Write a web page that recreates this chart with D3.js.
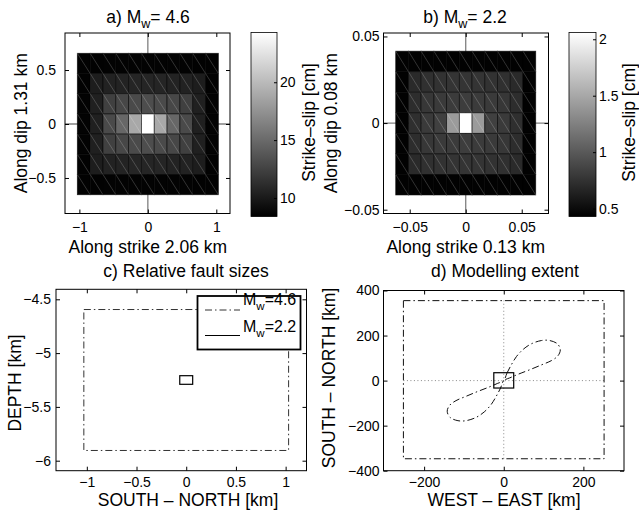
<!DOCTYPE html>
<html>
<head>
<meta charset="utf-8">
<script src="https://cdn.jsdelivr.net/npm/d3@7"></script>
<style>
  body { margin: 0; background: #fff; }
  svg text { font-family: "Liberation Sans", Arial, Helvetica, sans-serif; fill: #000; }
</style>
</head>
<body>
<svg id="fig" width="639" height="514"></svg>
<script>
// slip on the 11 x 7 sub-faults (top row first), a) Mw 4.6 [cm]
var slipA = [
  [8.5, 8.5, 8.6, 8.6, 8.6, 8.6, 8.6, 8.6, 8.6, 8.5, 8.5],
  [8.5, 10.2, 10.5, 10.6, 10.7, 10.7, 10.7, 10.6, 10.5, 10.2, 8.5],
  [8.6, 10.4, 12.4, 12.8, 13.0, 13.2, 13.0, 12.8, 12.4, 10.4, 8.6],
  [8.6, 10.4, 13.0, 14.8, 18.9, 24.3, 18.9, 14.8, 13.0, 10.4, 8.6],
  [8.6, 10.4, 12.4, 12.8, 13.0, 13.2, 13.0, 12.8, 12.4, 10.4, 8.6],
  [8.5, 10.2, 10.5, 10.6, 10.7, 10.7, 10.7, 10.6, 10.5, 10.2, 8.5],
  [8.5, 8.5, 8.6, 8.6, 8.6, 8.6, 8.6, 8.6, 8.6, 8.5, 8.5]
];
// b) Mw 2.2 [cm]
var slipB = [
  [0.44, 0.44, 0.44, 0.44, 0.44, 0.44, 0.44, 0.44, 0.44, 0.44, 0.44],
  [0.44, 0.70, 0.74, 0.75, 0.76, 0.76, 0.76, 0.75, 0.74, 0.70, 0.44],
  [0.44, 0.72, 0.78, 0.80, 0.81, 0.82, 0.81, 0.80, 0.78, 0.72, 0.44],
  [0.44, 0.73, 0.80, 0.84, 1.42, 2.06, 1.42, 0.84, 0.80, 0.73, 0.44],
  [0.44, 0.72, 0.78, 0.80, 0.81, 0.82, 0.81, 0.80, 0.78, 0.72, 0.44],
  [0.44, 0.70, 0.74, 0.75, 0.76, 0.76, 0.76, 0.75, 0.74, 0.70, 0.44],
  [0.44, 0.44, 0.44, 0.44, 0.44, 0.44, 0.44, 0.44, 0.44, 0.44, 0.44]
];
var faultSizeA = [2.06, 1.31];     // along strike, along dip [km]
var faultSizeB = [0.125, 0.083];
var slipRangeA = [8.4, 24.3], cbarTicksA = [10, 15, 20];
var slipRangeB = [0.43, 2.06], cbarTicksB = [0.5, 1, 1.5, 2];
var ticksAx = [-1, 0, 1], ticksAy = [-0.5, 0, 0.5];
var ticksBx = [-0.05, 0, 0.05], ticksBy = [-0.05, 0, 0.05];

// c) fault outlines [xmin, xmax, ymin, ymax] in km
var outlineC46 = [-1.03, 1.03, -5.905, -4.595];
var outlineC22 = [-0.065, 0.065, -5.29, -5.21];
var ticksCx = [-1, -0.5, 0, 0.5, 1], ticksCy = [-6, -5.5, -5, -4.5];

// d) modelling extent [km]
var modelBoxD = [-252, 252, -347, 355];
var faultBoxD = [-25, 25, -33, 35];
var lobeX = [0, 8, 19, 32, 49, 69, 95, 115, 135, 142, 136, 120, 95, 65, 36, 15,
             0, -8, -19, -32, -49, -69, -95, -115, -135, -142, -136, -120, -95, -65, -36, -15];
var lobeY = [0, 33, 70, 107, 139, 163, 178, 178, 163, 136, 110, 89, 70, 48, 28, 12,
             0, -33, -70, -107, -139, -163, -178, -178, -163, -136, -110, -89, -70, -48, -28, -12];
var ticksDx = [-200, 0, 200], ticksDy = [-400, -200, 0, 200, 400];

var FONT = '"Liberation Sans", Arial, Helvetica, sans-serif';
var LABEL = 17.5, TICK = 14;
var DASHDOT = "7,3,1.5,3";
var svg = d3.select("#fig");
svg.append("rect").attr("width", 639).attr("height", 514).attr("fill", "#fff");

function fmt(d) { return String(d).replace("-", "\u2212"); }

function drawAxes(g, x, y, xt, yt, padX, padY) {
  var xr = x.range(), yr = y.range();
  var ax = [
    [d3.axisBottom(x).tickValues(xt).tickPadding(padX).tickFormat(fmt), 0, yr[0]],
    [d3.axisTop(x).tickValues(xt).tickFormat(""), 0, yr[1]],
    [d3.axisLeft(y).tickValues(yt).tickPadding(padY).tickFormat(fmt), xr[0], 0],
    [d3.axisRight(y).tickValues(yt).tickFormat(""), xr[1], 0]
  ];
  ax.forEach(function(a) {
    g.append("g").attr("transform", "translate(" + a[1] + "," + a[2] + ")")
      .call(a[0].tickSize(-4))
      .attr("font-size", TICK).attr("font-family", FONT)
      .call(function(s) { s.select(".domain").remove(); });
  });
  g.selectAll(".tick line").attr("stroke", "#000");
  g.append("rect")
    .attr("x", xr[0]).attr("y", yr[1])
    .attr("width", xr[1] - xr[0]).attr("height", yr[0] - yr[1])
    .attr("fill", "none").attr("stroke", "#000").attr("stroke-width", 1);
}

function subText(g, x, y, pre, sub, post, size, anchor) {
  var t = g.append("text").attr("x", x).attr("y", y)
    .attr("font-size", size).attr("text-anchor", anchor || "middle");
  t.append("tspan").text(pre);
  t.append("tspan").attr("dy", 5).attr("font-size", size * 0.72).text(sub);
  t.append("tspan").attr("dy", -5).text(post);
  return t;
}

function label(g, x, y, txt) {
  g.append("text").attr("x", x).attr("y", y).attr("text-anchor", "middle")
    .attr("font-size", LABEL).text(txt);
}

function rotLabel(g, x, y, txt) {
  g.append("text").attr("transform", "translate(" + x + "," + y + ") rotate(-90)")
    .attr("text-anchor", "middle").attr("font-size", LABEL).text(txt);
}

function slipPanel(cfg) {
  var g = svg.append("g");
  var x = d3.scaleLinear().domain(cfg.xdom).range(cfg.xr);
  var y = d3.scaleLinear().domain(cfg.ydom).range(cfg.yr);
  var color = d3.scaleLinear().domain(cfg.crange).range(["#000", "#fff"]).clamp(true);
  var nr = cfg.slip.length, nc = cfg.slip[0].length;
  var cw = cfg.size[0] / nc, ch = cfg.size[1] / nr;
  var left = -cfg.size[0] / 2, top = cfg.size[1] / 2;

  // crosshair through origin
  g.append("line").attr("x1", x(0)).attr("x2", x(0)).attr("y1", cfg.yr[0]).attr("y2", cfg.yr[1])
    .attr("stroke", "#808080").attr("stroke-width", 1.3);
  g.append("line").attr("x1", cfg.xr[0]).attr("x2", cfg.xr[1]).attr("y1", y(0)).attr("y2", y(0))
    .attr("stroke", "#808080").attr("stroke-width", 1.3);

  var cells = [];
  cfg.slip.forEach(function(row, r) {
    row.forEach(function(v, c) {
      cells.push({ x0: left + c * cw, x1: left + (c + 1) * cw, y0: top - r * ch, y1: top - (r + 1) * ch, v: v });
    });
  });
  g.selectAll("rect.cell").data(cells).enter().append("rect")
    .attr("x", function(d) { return x(d.x0); })
    .attr("y", function(d) { return y(d.y0); })
    .attr("width", function(d) { return x(d.x1) - x(d.x0); })
    .attr("height", function(d) { return y(d.y1) - y(d.y0); })
    .attr("fill", function(d) { return color(d.v); })
    .attr("stroke", "#000").attr("stroke-opacity", 0.7).attr("stroke-width", 0.8);
  g.selectAll("line.diag").data(cells).enter().append("line")
    .attr("x1", function(d) { return x(d.x0); })
    .attr("y1", function(d) { return y(d.y0); })
    .attr("x2", function(d) { return x(d.x1); })
    .attr("y2", function(d) { return y(d.y1); })
    .attr("stroke", "#fff").attr("stroke-opacity", 0.28).attr("stroke-width", 0.7);

  drawAxes(g, x, y, cfg.xt, cfg.yt, cfg.padX, cfg.padY);

  // colorbar
  var cy = d3.scaleLinear().domain(cfg.crange).range(cfg.cbY);
  var gid = "grad" + cfg.id;
  var grad = svg.append("defs").append("linearGradient").attr("id", gid)
    .attr("x1", 0).attr("x2", 0).attr("y1", 1).attr("y2", 0);
  cfg.crange.forEach(function(v, i) {
    grad.append("stop").attr("offset", i).attr("stop-color", color(v));
  });
  g.append("rect").attr("x", cfg.cbX[0]).attr("y", cfg.cbY[1])
    .attr("width", cfg.cbX[1] - cfg.cbX[0]).attr("height", cfg.cbY[0] - cfg.cbY[1])
    .attr("fill", "url(#" + gid + ")").attr("stroke", "#000").attr("stroke-width", 0.8);
  g.append("g").attr("transform", "translate(" + cfg.cbX[1] + ",0)")
    .call(d3.axisRight(cy).tickValues(cfg.ct).tickSize(-3).tickPadding(3).tickFormat(fmt))
    .attr("font-size", TICK).attr("font-family", FONT)
    .call(function(s) { s.select(".domain").remove(); s.selectAll("line").attr("stroke", "#000"); });

  subText(g, cfg.title[0], 23, cfg.title[1], "w", cfg.title[2], LABEL);
  label(g, x(0), 253, cfg.xlabel);
  rotLabel(g, cfg.ylabX, (cfg.yr[0] + cfg.yr[1]) / 2, cfg.ylabel);
  rotLabel(g, cfg.cbLabX, (cfg.cbY[0] + cfg.cbY[1]) / 2 - 2, "Strike\u2013slip [cm]");
}

slipPanel({
  id: "A", slip: slipA, size: faultSizeA, crange: slipRangeA, ct: cbarTicksA,
  xdom: [-1.21, 1.2], ydom: [-0.829, 0.843], xr: [65, 230], yr: [213.5, 33],
  xt: ticksAx, yt: ticksAy, padX: 9, padY: 9,
  cbX: [251, 277], cbY: [216.5, 32.5], cbLabX: 315,
  title: [148, "a) M", "= 4.6"], xlabel: "Along strike 2.06 km", ylabel: "Along dip 1.31 km", ylabX: 27
});
slipPanel({
  id: "B", slip: slipB, size: faultSizeB, crange: slipRangeB, ct: cbarTicksB,
  xdom: [-0.0734, 0.0739], ydom: [-0.0522, 0.052], xr: [383.5, 548.5], yr: [213.5, 33],
  xt: ticksBx, yt: ticksBy, padX: 9, padY: 4,
  cbX: [569, 596], cbY: [216.5, 32.5], cbLabX: 635,
  title: [465, "b) M", "= 2.2"], xlabel: "Along strike 0.13 km", ylabel: "Along dip 0.08 km", ylabX: 337
});

// c) relative fault sizes
(function() {
  var g = svg.append("g");
  var x = d3.scaleLinear().domain([-1.31, 1.21]).range([56, 306.5]);
  var y = d3.scaleLinear().domain([-6.093, -4.407]).range([470.7, 289.3]);
  function box(b) {
    return g.append("rect").attr("x", x(b[0])).attr("y", y(b[3]))
      .attr("width", x(b[1]) - x(b[0])).attr("height", y(b[2]) - y(b[3])).attr("fill", "none");
  }
  box(outlineC46).attr("stroke", "#333").attr("stroke-width", 1).attr("stroke-dasharray", DASHDOT);
  box(outlineC22).attr("stroke", "#000").attr("stroke-width", 1.2);
  drawAxes(g, x, y, ticksCx, ticksCy, 6, 5);

  // legend
  g.append("rect").attr("x", 197.5).attr("y", 296).attr("width", 103).attr("height", 53.5)
    .attr("fill", "#fff").attr("stroke", "#000").attr("stroke-width", 1.8);
  g.append("line").attr("x1", 205).attr("x2", 240).attr("y1", 310).attr("y2", 310)
    .attr("stroke", "#333").attr("stroke-dasharray", DASHDOT);
  g.append("line").attr("x1", 205).attr("x2", 240).attr("y1", 335.5).attr("y2", 335.5)
    .attr("stroke", "#000").attr("stroke-width", 1.2);
  subText(g, 243, 305, "M", "w", "=4.6", 16, "start");
  subText(g, 243, 331.5, "M", "w", "=2.2", 16, "start");

  label(g, 186, 277, "c) Relative fault sizes");
  label(g, 188, 506, "SOUTH \u2013 NORTH [km]");
  rotLabel(g, 21, 383, "DEPTH [km]");
})();

// d) modelling extent
(function() {
  var g = svg.append("g");
  var x = d3.scaleLinear().domain([-302, 302]).range([383.5, 624]);
  var y = d3.scaleLinear().domain([-400, 400]).range([470.7, 290.5]);
  var b = modelBoxD;
  g.append("line").attr("x1", x(0)).attr("x2", x(0)).attr("y1", y(b[2])).attr("y2", y(b[3]))
    .attr("stroke", "#888").attr("stroke-dasharray", "1,2.5");
  g.append("line").attr("x1", x(b[0])).attr("x2", x(b[1])).attr("y1", y(0)).attr("y2", y(0))
    .attr("stroke", "#888").attr("stroke-dasharray", "1,2.5");
  function box(r) {
    return g.append("rect").attr("x", x(r[0])).attr("y", y(r[3]))
      .attr("width", x(r[1]) - x(r[0])).attr("height", y(r[2]) - y(r[3])).attr("fill", "none");
  }
  box(modelBoxD).attr("stroke", "#111").attr("stroke-width", 1).attr("stroke-dasharray", DASHDOT);
  var pts = lobeX.map(function(v, i) { return [x(v), y(lobeY[i])]; });
  g.append("path").attr("d", d3.line().curve(d3.curveCatmullRomClosed)(pts))
    .attr("fill", "none").attr("stroke", "#111").attr("stroke-width", 1).attr("stroke-dasharray", DASHDOT);
  box(faultBoxD).attr("stroke", "#000").attr("stroke-width", 1.2);
  drawAxes(g, x, y, ticksDx, ticksDy, 6, 4);

  label(g, 505, 277, "d) Modelling extent");
  label(g, 504, 506, "WEST \u2013 EAST [km]");
  rotLabel(g, 335, 378, "SOUTH \u2013 NORTH [km]");
})();
</script>
</body>
</html>
